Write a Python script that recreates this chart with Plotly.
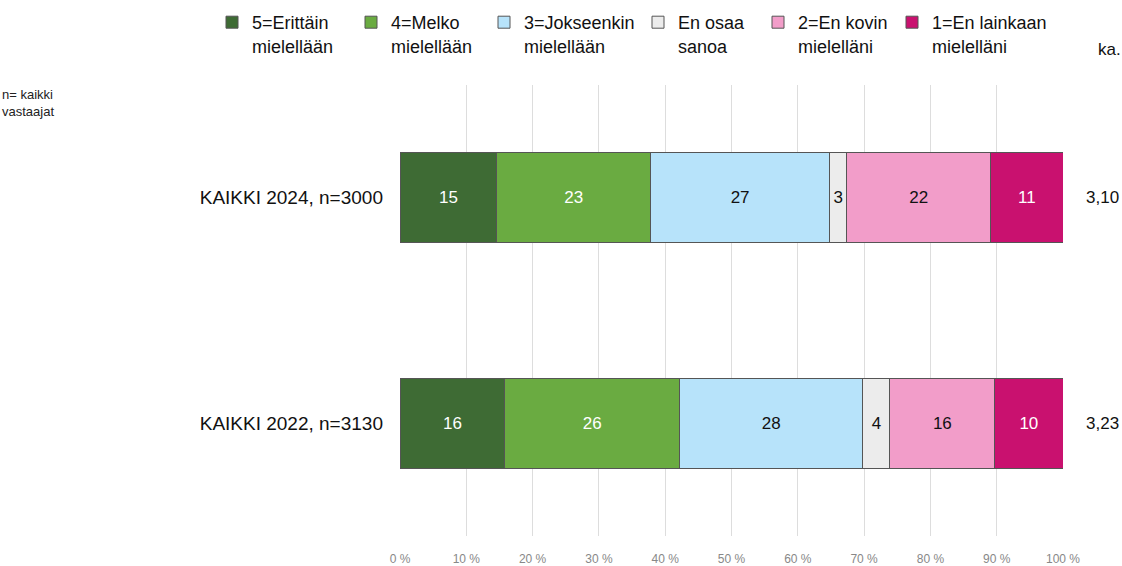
import plotly.graph_objects as go

categories = ["KAIKKI 2024, n=3000", "KAIKKI 2022, n=3130"]
series_names = [
    "5=Erittäin<br>mielellään",
    "4=Melko<br>mielellään",
    "3=Jokseenkin<br>mielellään",
    "En osaa<br>sanoa",
    "2=En kovin<br>mielelläni",
    "1=En lainkaan<br>mielelläni",
]
s5 = [14.6, 15.8]
s4 = [23.2, 26.4]
s3 = [27.0, 27.6]
s_eos = [2.6, 4.1]
s2 = [21.7, 15.8]
s1 = [10.9, 10.3]
ka_values = ["3,10", "3,23"]
x_ticks = [0, 10, 20, 30, 40, 50, 60, 70, 80, 90, 100]

colors = ["#3e6b34", "#6aab41", "#b7e3fa", "#ececec", "#f29dc9", "#c9116f"]
text_colors = ["white", "white", "#111111", "#111111", "#111111", "white"]
legend_widths = [94, 88, 109, 75, 89, 118]

FONT = "Liberation Sans, Arial, sans-serif"

fig = go.Figure()
for name, vals, col, tcol, lw in zip(series_names, [s5, s4, s3, s_eos, s2, s1],
                                     colors, text_colors, legend_widths):
    fig.add_trace(go.Bar(
        y=categories, x=vals, name=name, orientation="h",
        marker=dict(color=col, line=dict(color="#555555", width=1)),
        texttemplate="%{x:.0f}", textposition="inside", insidetextanchor="middle",
        textangle=0, constraintext="none",
        textfont=dict(color=tcol, size=17, family=FONT),
        legendwidth=lw,
        hoverinfo="skip",
    ))

for cat, ka in zip(categories, ka_values):
    fig.add_annotation(x=(1102 - 400) / 663, xref="paper", xanchor="center", y=cat, yref="y",
                       text=ka, showarrow=False, font=dict(size=17, color="#111111", family=FONT))

fig.add_annotation(x=(1109 - 400) / 663, y=1 + (85 - 50) / 451, xref="paper", yref="paper",
                   text="ka.", showarrow=False, xanchor="center", yanchor="middle",
                   font=dict(size=17, color="#111111", family=FONT))

fig.add_annotation(x=-400 / 663, y=1 - (103 - 85) / 451, xref="paper", yref="paper",
                   xanchor="left", yanchor="middle",
                   text="n= kaikki<br>vastaajat", showarrow=False, align="left",
                   font=dict(size=13, color="#222222", family=FONT))

fig.update_layout(
    width=1122, height=566,
    margin=dict(l=400, r=59, t=85, b=30, autoexpand=False),
    barmode="stack", bargap=0.6,
    plot_bgcolor="white", paper_bgcolor="white",
    font=dict(family=FONT, color="#111111"),
    uniformtext=dict(minsize=17, mode="show"),
    showlegend=True,
    legend=dict(orientation="h", xref="paper", yref="paper",
                x=(212 - 400) / 663, y=1 + (85 - 4) / 451, xanchor="left", yanchor="top",
                valign="top", traceorder="normal",
                entrywidthmode="pixels",
                font=dict(size=18, color="#111111", family=FONT)),
    xaxis=dict(range=[0, 100], tickvals=x_ticks, ticktext=[f"{t} %" for t in x_ticks],
               showgrid=True, gridcolor="#dddddd", gridwidth=1, zeroline=False,
               showline=False, ticks="", ticklabelstandoff=14, automargin=False,
               tickfont=dict(size=12, color="#888888", family=FONT)),
    yaxis=dict(categoryorder="array", categoryarray=categories[::-1], range=[-0.5, 1.5],
               showgrid=False, zeroline=False, showline=False, ticks="", automargin=False,
               ticklabelstandoff=16, tickfont=dict(size=19, color="#111111", family=FONT)),
)

fig.write_html("out.html", config={"displayModeBar": False},
               post_script="document.body.style.margin='0';")
